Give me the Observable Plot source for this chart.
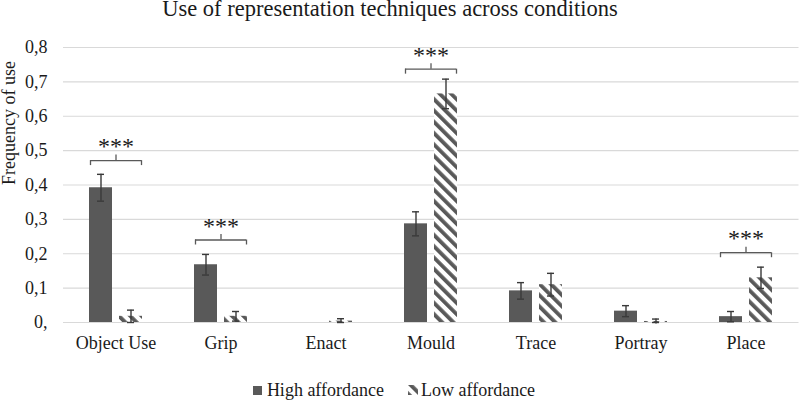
<!DOCTYPE html>
<html>
<head>
<meta charset="utf-8">
<script src="https://cdn.jsdelivr.net/npm/d3@7"></script>
<script src="https://cdn.jsdelivr.net/npm/@observablehq/plot@0.6"></script>
<style>
  html, body { margin: 0; padding: 0; background: #fff; }
  body { width: 800px; height: 401px; overflow: hidden; font-family: "Liberation Serif", "Times New Roman", serif; color: #1a1a1a; }
  #title { height: 30px; line-height: 18px; font-size: 22.5px; text-align: center; padding-right: 20px; box-sizing: border-box; }
  #legend { display: flex; justify-content: center; align-items: center; font-size: 18px; line-height: 22px; padding-top: 4px; transform: translateX(-6px); }
  #legend .item { display: flex; align-items: center; }
  #legend svg { display: block; }
</style>
</head>
<body>
<svg width="0" height="0" style="position:absolute">
  <defs>
    <pattern id="hatch" patternUnits="userSpaceOnUse" width="8" height="8" patternTransform="rotate(-45)">
      <rect width="8" height="8" fill="#ffffff"></rect>
      <rect width="3.8" height="8" fill="#595959"></rect>
    </pattern>
  </defs>
</svg>
<div id="title">Use of representation techniques across conditions</div>
<div id="chart"></div>
<div id="legend"></div>
<script>
const categories = ["Object Use", "Grip", "Enact", "Mould", "Trace", "Portray", "Place"];
const seriesNames = ["High affordance", "Low affordance"];
const highValues = [0.392, 0.168, 0, 0.287, 0.092, 0.033, 0.017];
const highErrors = [0.039, 0.030, 0, 0.035, 0.024, 0.016, 0.015];
const lowValues  = [0.018, 0.018, 0.004, 0.665, 0.110, 0.003, 0.130];
const lowErrors  = [0.018, 0.014, 0.007, 0.043, 0.033, 0.007, 0.031];
const sigCategories = ["Object Use", "Grip", "Mould", "Place"];
const sigLevels = [0.471, 0.240, 0.737, 0.203];
const sigLabels = ["***", "***", "***", "***"];
const yTicks = [0, 0.1, 0.2, 0.3, 0.4, 0.5, 0.6, 0.7, 0.8];
const yTickLabels = ["0,", "0,1", "0,2", "0,3", "0,4", "0,5", "0,6", "0,7", "0,8"];
const yLabel = "Frequency of use";

const high = categories.map((c, i) => ({cat: c, value: highValues[i], err: highErrors[i]}));
const low = categories.map((c, i) => ({cat: c, value: lowValues[i], err: lowErrors[i]}));
const sig = sigCategories.map((c, i) => ({cat: c, level: sigLevels[i], label: sigLabels[i]}));

// pixel-based styling offsets converted to data units
const plotTop = 17, plotBottom = 292;
const pxPerUnit = (plotBottom - plotTop) / 0.8;
const endLen = 5 / pxPerUnit;
const midLen = 5.5 / pxPerUnit;

const errColor = "#3a3a3a";
const barColor = "#595959";

function errorMarks(data, dx, capInsetL, capInsetR) {
  const d = data.filter(r => r.err > 0);
  return [
    Plot.ruleX(d, {x: "cat", y1: r => r.value - r.err, y2: r => r.value + r.err, dx, stroke: errColor, strokeWidth: 1.4}),
    Plot.tickY(d, {x: "cat", y: r => r.value + r.err, insetLeft: capInsetL, insetRight: capInsetR, stroke: errColor, strokeWidth: 1.4}),
    Plot.tickY(d, {x: "cat", y: r => Math.max(0, r.value - r.err), insetLeft: capInsetL, insetRight: capInsetR, stroke: errColor, strokeWidth: 1.4})
  ];
}

const chart = Plot.plot({
  width: 800,
  height: 345,
  marginTop: plotTop,
  marginBottom: 345 - plotBottom,
  marginLeft: 63,
  marginRight: 1.5,
  style: {fontFamily: "Liberation Serif, Times New Roman, serif", fontSize: "18px", color: "#1a1a1a", background: "transparent"},
  x: {domain: categories, padding: 0, tickSize: 0, tickPadding: 14, label: null},
  y: {domain: [0, 0.8], ticks: yTicks, tickFormat: d => yTickLabels[yTicks.indexOf(d)], tickSize: 0, tickPadding: 16, label: null},
  marks: [
    Plot.ruleY(yTicks, {stroke: "#d9d9d9", strokeWidth: 1.2}),
    Plot.barY(high, {x: "cat", y: "value", fill: barColor, insetLeft: 26, insetRight: 56}),
    Plot.barY(low, {x: "cat", y: "value", fill: "url(#hatch)", insetLeft: 56, insetRight: 26}),
    ...errorMarks(high, -15, 34, 64),
    ...errorMarks(low, 15, 64, 34),
    Plot.tickY(sig, {x: "cat", y: "level", insetLeft: 27, insetRight: 27, stroke: barColor, strokeWidth: 1.3}),
    Plot.ruleX(sig, {x: "cat", y1: "level", y2: r => r.level - endLen, dx: -25.5, stroke: barColor, strokeWidth: 1.3}),
    Plot.ruleX(sig, {x: "cat", y1: "level", y2: r => r.level - endLen, dx: 25.5, stroke: barColor, strokeWidth: 1.3}),
    Plot.ruleX(sig, {x: "cat", y1: "level", y2: r => r.level + midLen, stroke: barColor, strokeWidth: 1.3}),
    Plot.text(sig, {x: "cat", y: "level", text: "label", dy: -14, fontSize: 24, fill: "#1a1a1a"}),
    Plot.text([yLabel], {frameAnchor: "left", text: d => d, dx: -54, rotate: -90, fontSize: 18, fill: "#1a1a1a"})
  ]
});
document.getElementById("chart").appendChild(chart);

const legend = document.getElementById("legend");
const icons = [
  '<svg width="9" height="9"><rect width="9" height="9" fill="' + barColor + '"></rect></svg>',
  '<svg width="10" height="10"><rect width="10" height="10" fill="url(#hatch)"></rect></svg>'
];
const gaps = [5, 3];
seriesNames.forEach((name, i) => {
  const item = document.createElement("div");
  item.className = "item";
  if (i > 0) item.style.marginLeft = "24px";
  item.innerHTML = icons[i] + '<span style="margin-left:' + gaps[i] + 'px">' + name + '</span>';
  legend.appendChild(item);
});
</script>
</body>
</html>
